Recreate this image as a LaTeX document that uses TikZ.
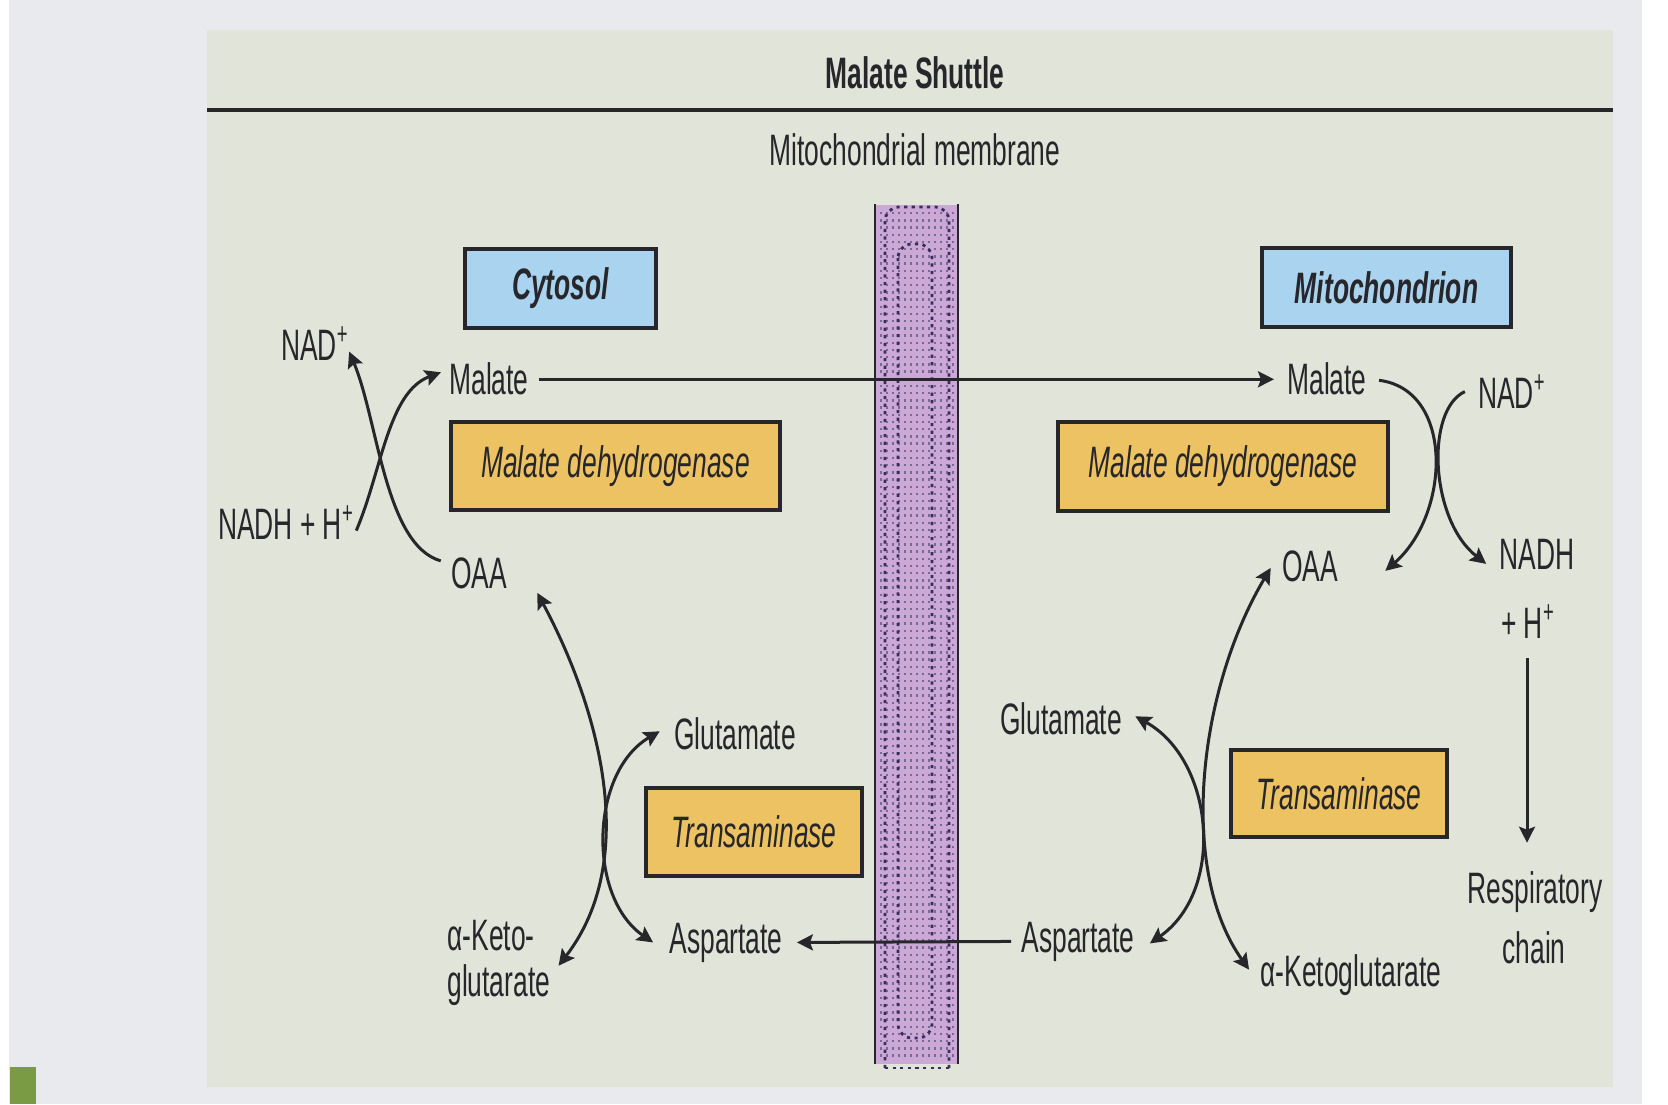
\documentclass[tikz,border=0pt]{standalone}
\usepackage{fontspec}
\setmainfont{Liberation Sans}[FakeStretch=0.6]
\usetikzlibrary{arrows.meta,calc}
\definecolor{pagegrey}{HTML}{E9EAED}
\definecolor{panelgrey}{HTML}{E1E4D8}
\definecolor{ink}{HTML}{26262B}
\definecolor{skyfill}{HTML}{A9D3EE}
\definecolor{goldfill}{HTML}{ECC262}
\definecolor{membfill}{HTML}{CBA8D6}
\definecolor{membdot}{HTML}{3A2D5E}
\definecolor{tabgreen}{HTML}{7A9A43}
\begin{document}
\begin{tikzpicture}[x=0.5pt,y=-0.5pt,
  lbl/.style={inner sep=0pt, text=ink, font=\fontsize{22}{26}\selectfont},
  boxbase/.style={draw=ink, line width=1.9pt, inner sep=0pt, text=ink},
  bluebox/.style={boxbase, fill=skyfill, font=\fontsize{22}{26}\selectfont\bfseries\itshape},
  goldbox/.style={boxbase, fill=goldfill, font=\fontsize{22}{26}\selectfont\itshape},
  conn/.style={draw=ink, line width=1.5pt},
  onehead/.style={conn, -{Stealth[length=8pt,width=8pt,inset=1.5pt]}},
  twohead/.style={conn, {Stealth[length=8pt,width=8pt,inset=1.5pt]}-{Stealth[length=8pt,width=8pt,inset=1.5pt]}},
  membdash/.style={draw=membdot, line width=1.4pt, dash pattern=on 1.6pt off 2.2pt}
]
\useasboundingbox (0,0) rectangle (1668,1104);

% paper and panel
\fill[white] (0,0) rectangle (1668,1104);
\fill[pagegrey] (9,0) rectangle (1642,1104);
\fill[panelgrey] (207,30) rectangle (1613,1087);
\fill[tabgreen] (10,1067) rectangle (36,1104);

% heading
\node[lbl, anchor=base, font=\fontsize{22}{26}\selectfont\bfseries] (title) at (915,88) {Malate Shuttle};
\draw[ink, line width=2pt] (207,110) -- (1613,110);
\node[lbl, anchor=base] (membname) at (915,165) {Mitochondrial membrane};

% membrane band with its dotted double outline
\fill[membfill] (876,205) rectangle (957,1064);
\foreach \xx in {881,887,...,954}
  \draw[membdot!70, line width=1pt, dash pattern=on 1.2pt off 2.4pt] (\xx,212) -- (\xx,1060);
\draw[membdash, rounded corners=7pt] (885,1068) -- (885,207) -- (949,207) -- (949,1068);
\draw[membdash] (885,1068) -- (949,1068);
\draw[membdash, rounded corners=7pt] (898,244) rectangle (932,1038);
\draw[ink, line width=1.3pt] (875,204) -- (875,1064);
\draw[ink, line width=1.3pt] (958,204) -- (958,1064);

% compartment and enzyme boxes
\node[bluebox, minimum width=95.5pt, minimum height=39.5pt] (cyto) at (560.5,288.5) {Cytosol};
\node[bluebox, minimum width=124.5pt, minimum height=39.5pt] (mito) at (1386.5,287.5) {Mitochondrion};
\node[goldbox, minimum width=164.5pt, minimum height=44pt] (mdhL) at (615.5,466) {Malate dehydrogenase};
\node[goldbox, minimum width=165pt, minimum height=44.5pt] (mdhR) at (1223,466.5) {Malate dehydrogenase};
\node[goldbox, minimum width=108pt, minimum height=44pt] (taL) at (754,832) {Transaminase};
\node[goldbox, minimum width=108pt, minimum height=43.5pt] (taR) at (1339,793.5) {Transaminase};

% cytosolic metabolites
\node[lbl, anchor=base] (nadL) at (315,360) {NAD\textsuperscript{+}};
\node[lbl, anchor=base] (malL) at (489,394) {Malate};
\node[lbl, anchor=base] (nadhL) at (286,539) {NADH + H\textsuperscript{+}};
\node[lbl, anchor=base] (oaaL) at (479,588) {OAA};
\node[lbl, anchor=base] (gluL) at (735,749) {Glutamate};
\node[lbl, anchor=base west] (akgLa) at (447,950) {α-Keto-};
\node[lbl, anchor=base west] (akgLb) at (447,996) {glutarate};
\node[lbl, anchor=base] (aspL) at (726,953) {Aspartate};

% mitochondrial metabolites
\node[lbl, anchor=base] (malR) at (1327,394) {Malate};
\node[lbl, anchor=base] (nadR) at (1512,408) {NAD\textsuperscript{+}};
\node[lbl, anchor=base] (oaaR) at (1310,581) {OAA};
\node[lbl, anchor=base] (nadhR) at (1537,569) {NADH};
\node[lbl, anchor=base] (hR) at (1528,638) {+ H\textsuperscript{+}};
\node[lbl, anchor=base] (gluR) at (1061,734) {Glutamate};
\node[lbl, anchor=base] (aspR) at (1078,952) {Aspartate};
\node[lbl, anchor=base] (akgR) at (1351,986) {α-Ketoglutarate};
\node[lbl, anchor=base] (resp1) at (1535,903) {Respiratory};
\node[lbl, anchor=base] (resp2) at (1534,963) {chain};

% transport across the membrane
\draw[onehead] ($(malL.east)+(10,1)$) -- ($(malR.west)+(-13,1)$);
\draw[onehead] ($(aspR.west)+(-10,0)$) -- ($(aspL.east)+(14,0)$);

% cytosolic malate dehydrogenase
\draw[onehead] ($(nadhL.east)+(2,8)$) .. controls (382,470) and (388,392) .. ($(malL.west)+(-8,-6)$);
\draw[onehead] ($(oaaL.west)+(-10,-12)$) .. controls (385,545) and (378,420) .. ($(nadL.east)+(0,8)$);

% mitochondrial malate dehydrogenase
\draw[onehead] ($(malR.east)+(12,2)$) .. controls (1455,390) and (1450,515) .. ($(oaaR.east)+(47,5)$);
\draw[onehead] ($(nadR.west)+(-13,0)$) .. controls (1425,410) and (1430,520) .. ($(nadhR.west)+(-13,10)$);

% cytosolic transaminase
\draw[twohead] ($(oaaL.south east)+(30,4)$) .. controls (600,710) and (640,860) .. ($(akgLb.north east)+(8,2)$);
\draw[twohead] ($(gluL.west)+(-14,-2)$) .. controls (590,772) and (587,897) .. ($(aspL.west)+(-16,0)$);

% mitochondrial transaminase
\draw[twohead] ($(oaaR.west)+(-11,2)$) .. controls (1198,690) and (1178,870) .. ($(akgR.west)+(-11,-5)$);
\draw[twohead] ($(gluR.east)+(13,-2)$) .. controls (1214,760) and (1226,890) .. ($(aspR.east)+(15,2)$);

% NADH to the respiratory chain
\draw[onehead] ($(hR.south)+(-1,20)$) -- ($(resp1.north)+(-8,-28)$);
\end{tikzpicture}
\end{document}
